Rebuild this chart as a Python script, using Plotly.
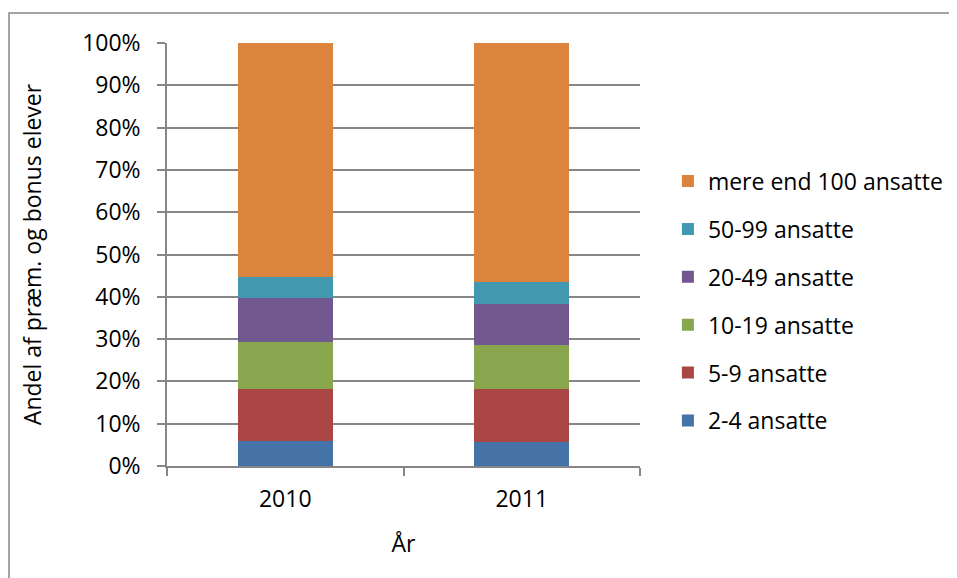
import plotly.graph_objects as go

years = ["2010", "2011"]
series_names = [
    "2-4 ansatte",
    "5-9 ansatte",
    "10-19 ansatte",
    "20-49 ansatte",
    "50-99 ansatte",
    "mere end 100 ansatte",
]
share_2_4 = [6.0, 5.7]
share_5_9 = [12.3, 12.4]
share_10_19 = [10.9, 10.4]
share_20_49 = [10.5, 9.9]
share_50_99 = [5.1, 5.0]
share_100plus = [55.2, 56.6]

series_values = [share_2_4, share_5_9, share_10_19, share_20_49, share_50_99, share_100plus]
colors = ["#4572A7", "#AA4643", "#89A54E", "#71588F", "#4198AF", "#DB843D"]

FONT = "'Open Sans', sans-serif"
GRID = "#868686"
FS = 23

fig = go.Figure()
for i, (name, vals, col) in enumerate(zip(series_names, series_values, colors)):
    # legend shows the top segment first
    fig.add_trace(go.Bar(
        x=years, y=vals, name=name, legendgroup=name, legendrank=len(series_names) - i,
        marker=dict(color=col, line=dict(width=0)),
    ))

fig.update_layout(
    barmode="stack",
    bargap=0.6,
    width=957, height=578,
    margin=dict(l=159, r=325, t=35, b=120),
    paper_bgcolor="white", plot_bgcolor="white",
    font=dict(family=FONT, size=FS, color="black"),
    legend=dict(
        x=1.059, xanchor="left", y=0.39, yanchor="middle",
        traceorder="grouped", tracegroupgap=15,
        font=dict(size=FS), itemwidth=30,
    ),
    xaxis=dict(
        title=dict(text="År", standoff=23, font=dict(size=FS)),
        showline=True, linecolor=GRID, linewidth=1.5,
        ticks="outside", tickson="boundaries", ticklen=8, tickcolor=GRID, tickwidth=1.5,
        ticklabelstandoff=12,
        showgrid=False,
    ),
    yaxis=dict(
        title=dict(text="Andel af præm. og bonus elever", standoff=34, font=dict(size=FS)),
        range=[0, 100], dtick=10, ticksuffix="%",
        showline=True, linecolor=GRID, linewidth=1.5,
        ticks="outside", ticklen=8, tickcolor=GRID, tickwidth=1.5,
        ticklabelstandoff=12,
        showgrid=True, gridcolor=GRID, gridwidth=1.5,
        zeroline=False,
    ),
    shapes=[dict(
        type="rect", xref="paper", yref="paper",
        x0=-0.334, x1=1.8, y0=-0.5, y1=1.071,
        line=dict(color=GRID, width=1.5), layer="below",
    )],
)

fig.write_html("out.html")
